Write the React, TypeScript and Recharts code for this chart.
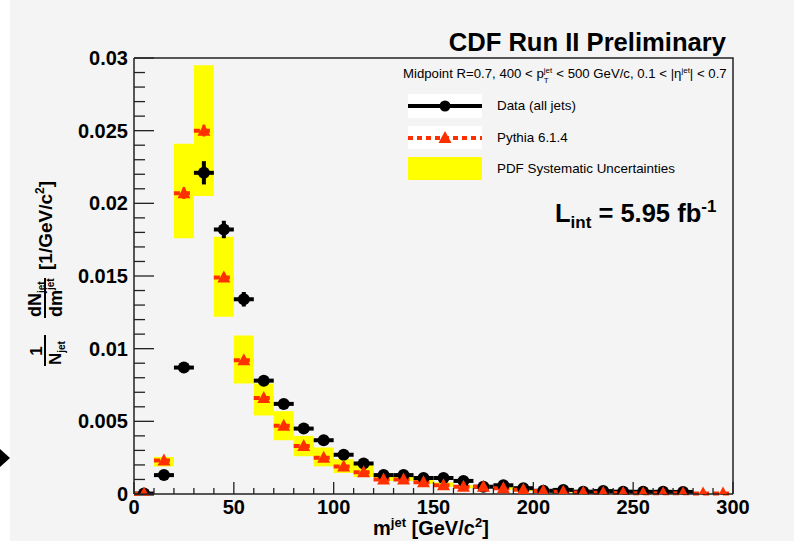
import { ComposedChart, Scatter, XAxis, YAxis, ErrorBar, ReferenceArea } from "recharts";

// bin centres [GeV/c^2], 10 GeV bins
const massBins = [
  5, 15, 25, 35, 45, 55, 65, 75, 85, 95, 105, 115, 125, 135, 145, 155, 165, 175, 185, 195,
  205, 215, 225, 235, 245, 255, 265, 275, 285, 295,
];

// data (all jets), bins 5..275
const dataValues = [
  0.00003, 0.0013, 0.0087, 0.0221, 0.0182, 0.0134, 0.0078, 0.0062, 0.0045, 0.0037, 0.0027,
  0.0021, 0.0013, 0.0013, 0.0011, 0.0011, 0.0009, 0.0005, 0.0006, 0.0004, 0.00022, 0.00028,
  0.00016, 0.0002, 0.00016, 0.00015, 0.00015, 0.00014,
];
const dataErrors = [
  0, 0.0001, 0.0003, 0.0008, 0.0006, 0.0005, 0.0003, 0.0002, 0.0001, 0.0001, 0.0001, 0.0001,
  0.0001, 0.0001, 0.0001, 0.0001, 0.0001, 0.0001, 0.0001, 0.0001, 0.0001, 0.0001, 0.0001,
  0.0001, 0.0001, 0.0001, 0.0001, 0.0001,
];

// Pythia 6.1.4
const pythiaValues = [
  0.00002, 0.0023, 0.0207, 0.025, 0.0149, 0.0092, 0.0066, 0.0047, 0.0033, 0.0025, 0.0019,
  0.0015, 0.001, 0.001, 0.0008, 0.0006, 0.0005, 0.0005, 0.0004, 0.0003, 0.0002, 0.00015,
  0.0001, 0.00008, 0.00007, 0.00006, 0.00005, 0.00005, 0.00004, 0.00003,
];
const pythiaErrors = [
  0, 0.0001, 0.0004, 0.0004, 0.0003, 0.0002, 0.0001, 0.0001, 0.0001, 0.0001, 0.0001, 0.0001,
  0.0001, 0.0001, 0.0001, 0.0001, 0.0001, 0.0001, 0.0001, 0.0001, 0.0001, 0.0001, 0.0001,
  0.0001, 0.0001, 0.0001, 0.0001, 0.0001, 0.0001, 0.0001,
];

// PDF systematic band
const pdfLow = [
  0, 0.0019, 0.0176, 0.0205, 0.0122, 0.0076, 0.0054, 0.0037, 0.0026, 0.0019, 0.00145,
  0.00117, 0.0009, 0.0009, 0.0007, 0.0005, 0.0004, 0.0004, 0.0003, 0.0002, 0.00013, 0.0001,
  0.00006, 0.00005, 0.00004, 0.00004, 0.00003, 0.00003, 0.00002, 0.00001,
];
const pdfHigh = [
  0.0001, 0.00255, 0.0241, 0.0295, 0.0177, 0.0109, 0.0076, 0.0057, 0.004, 0.0032, 0.0024,
  0.002, 0.0014, 0.0013, 0.001, 0.0008, 0.0006, 0.0006, 0.0005, 0.0004, 0.00028, 0.0002,
  0.00014, 0.00011, 0.0001, 0.00008, 0.00007, 0.00007, 0.00006, 0.00005,
];

const xTicks = [
  0, 10, 20, 30, 40, 50, 60, 70, 80, 90, 100, 110, 120, 130, 140, 150, 160, 170, 180, 190,
  200, 210, 220, 230, 240, 250, 260, 270, 280, 290, 300,
];
const yTicks = [
  0, 0.001, 0.002, 0.003, 0.004, 0.005, 0.006, 0.007, 0.008, 0.009, 0.01, 0.011, 0.012,
  0.013, 0.014, 0.015, 0.016, 0.017, 0.018, 0.019, 0.02, 0.021, 0.022, 0.023, 0.024, 0.025,
  0.026, 0.027, 0.028, 0.029, 0.03,
];

const RED = "#ff3000";
const YELLOW = "#ffff00";
const FONT = "'Liberation Sans', Arial, Helvetica, sans-serif";

const dataRows = dataValues.map((v, i) => ({ m: massBins[i], y: v, xErr: 5, yErr: dataErrors[i] }));
const pythiaRows = pythiaValues.map((v, i) => ({ m: massBins[i], y: v, xErr: 5, yErr: pythiaErrors[i] }));

function XTick(props: any) {
  const { x, y, payload } = props;
  const v = payload.value;
  const major = v % 50 === 0;
  return (
    <g>
      <line x1={x} x2={x} y1={y} y2={y - (major ? 12 : 6)} stroke="#222" strokeWidth={1.3} />
      {major && (
        <text x={x} y={y + 20} textAnchor="middle" fontFamily={FONT} fontWeight="bold" fontSize={20} fill="#000">
          {v}
        </text>
      )}
    </g>
  );
}

function YTick(props: any) {
  const { x, y, payload } = props;
  const v = payload.value;
  const milli = Math.round(v * 1000);
  const major = milli % 5 === 0;
  return (
    <g>
      <line x1={x} x2={x + (major ? 20 : 11)} y1={y} y2={y} stroke="#222" strokeWidth={1.3} />
      {major && (
        <text x={x - 6} y={y + 7} textAnchor="end" fontFamily={FONT} fontWeight="bold" fontSize={20} fill="#000">
          {String(milli / 1000)}
        </text>
      )}
    </g>
  );
}

const DataDot = (props: any) => <circle cx={props.cx} cy={props.cy} r={6} fill="#000" />;
const PythiaTri = (props: any) => {
  const { cx, cy } = props;
  return <polygon points={`${cx},${cy - 7} ${cx - 6.5},${cy + 5} ${cx + 6.5},${cy + 5}`} fill={RED} />;
};

function Overlay() {
  return (
    <svg width={794} height={541} style={{ position: "absolute", left: 0, top: 0, pointerEvents: "none" }}>
      <rect x={0} y={0} width={10} height={541} fill="#fff" />
      <polygon points="0,449 10,458 0,467" fill="#000" />
      {/* top and right frame of the pad */}
      <polyline points="134,58 733,58 733,494" fill="none" stroke="#222" strokeWidth={1.5} />
      <text x={726} y={51} textAnchor="end" fontFamily={FONT} fontWeight="bold" fontSize={25.6} fill="#000">
        CDF Run II Preliminary
      </text>

      {/* legend */}
      <text x={403} y={78} fontFamily={FONT} fontSize={13.2} fill="#000">
        Midpoint R=0.7, 400 &lt; p
        <tspan fontSize={8} dy={-5}>jet</tspan>
        <tspan fontSize={8} dx={-8.5} dy={10}>T</tspan>
        <tspan dx={4} dy={-5}> &lt; 500 GeV/c, 0.1 &lt; |η</tspan>
        <tspan fontSize={8} dy={-5}>jet</tspan>
        <tspan dy={5}>| &lt; 0.7</tspan>
      </text>
      <rect x={408} y={94} width={74} height={24} fill="#fff" />
      <line x1={408} x2={482} y1={106} y2={106} stroke="#000" strokeWidth={4} />
      <circle cx={445} cy={106} r={5.5} fill="#000" />
      <text x={497} y={110} fontFamily={FONT} fontSize={13.4} fill="#000">
        Data (all jets)
      </text>
      <rect x={408} y={126} width={74} height={23} fill="#fff" />
      <line x1={408} x2={482} y1={138} y2={138} stroke={RED} strokeWidth={4} strokeDasharray="5 4" />
      <polygon points="445,131 438.5,143 451.5,143" fill={RED} />
      <text x={497} y={142} fontFamily={FONT} fontSize={13.4} fill="#000">
        Pythia 6.1.4
      </text>
      <rect x={408} y={157} width={74} height={23} fill={YELLOW} />
      <text x={497} y={173} fontFamily={FONT} fontSize={13.4} fill="#000">
        PDF Systematic Uncertainties
      </text>

      <text x={555} y={222} fontFamily={FONT} fontWeight="bold" fontSize={25.5} fill="#000">
        L<tspan fontSize={17} dy={6}>int</tspan>
        <tspan dy={-6}> = 5.95 fb</tspan>
        <tspan fontSize={17} dy={-10}>-1</tspan>
      </text>

      {/* x title */}
      <text x={373} y={535} fontFamily={FONT} fontWeight="bold" fontSize={20} fill="#000">
        m<tspan fontSize={13} dy={-8}>jet</tspan>
        <tspan dy={8}>{"  [GeV/c"}</tspan>
        <tspan fontSize={13} dy={-8}>2</tspan>
        <tspan dy={8}>]</tspan>
      </text>

      {/* y title, rotated */}
      <g transform="translate(45,366) rotate(-90)" fontFamily={FONT} fontWeight="bold" fill="#000">
        <text x={15} y={-3} textAnchor="middle" fontSize={17}>1</text>
        <line x1={0} x2={31} y1={0} y2={0} stroke="#000" strokeWidth={2} />
        <text x={1} y={16} fontSize={17}>
          N<tspan fontSize={10} dy={4}>jet</tspan>
        </text>
        <text x={49} y={-4} fontSize={18}>
          dN<tspan fontSize={10} dy={4}>jet</tspan>
        </text>
        <line x1={48} x2={88} y1={0} y2={0} stroke="#000" strokeWidth={2} />
        <text x={49} y={17} fontSize={18}>
          dm<tspan fontSize={10} dy={-8}>jet</tspan>
        </text>
        <text x={96} y={7} fontSize={19}>
          [1/GeV/c<tspan fontSize={12} dy={-8}>2</tspan>
          <tspan dy={8}>]</tspan>
        </text>
      </g>
    </svg>
  );
}

export default function App() {
  return (
    <div style={{ position: "absolute", left: 0, top: 0, width: 794, height: 541, background: "#f4f4f4" }}>
      <ComposedChart width={794} height={541} margin={{ top: 58, right: 61, bottom: 46, left: 133 }}>
        <XAxis
          dataKey="m"
          type="number"
          domain={[0, 300]}
          ticks={xTicks}
          interval={0}
          height={1}
          tickSize={0}
          tickMargin={0}
          tickLine={false}
          tick={<XTick />}
          axisLine={{ stroke: "#222", strokeWidth: 1.5 }}
          allowDataOverflow
        />
        <YAxis
          type="number"
          domain={[0, 0.03]}
          ticks={yTicks}
          interval={0}
          width={1}
          tickSize={0}
          tickMargin={0}
          tickLine={false}
          tick={<YTick />}
          axisLine={{ stroke: "#222", strokeWidth: 1.5 }}
          allowDataOverflow
        />

        {massBins.map((m, i) => (
          <ReferenceArea
            key={m}
            x1={m - 5}
            x2={m + 5}
            y1={pdfLow[i]}
            y2={pdfHigh[i]}
            fill={YELLOW}
            fillOpacity={1}
            stroke="none"
          />
        ))}

        <Scatter data={dataRows} dataKey="y" shape={<DataDot />} isAnimationActive={false}>
          <ErrorBar dataKey="xErr" direction="x" width={0} stroke="#000" strokeWidth={4} isAnimationActive={false} />
          <ErrorBar dataKey="yErr" direction="y" width={0} stroke="#000" strokeWidth={4} isAnimationActive={false} />
        </Scatter>
        <Scatter data={pythiaRows} dataKey="y" shape={<PythiaTri />} isAnimationActive={false}>
          <ErrorBar dataKey="xErr" direction="x" width={0} stroke={RED} strokeWidth={4} strokeDasharray="6 4" isAnimationActive={false} />
          <ErrorBar dataKey="yErr" direction="y" width={0} stroke={RED} strokeWidth={3} isAnimationActive={false} />
        </Scatter>
      </ComposedChart>
      <Overlay />
    </div>
  );
}
